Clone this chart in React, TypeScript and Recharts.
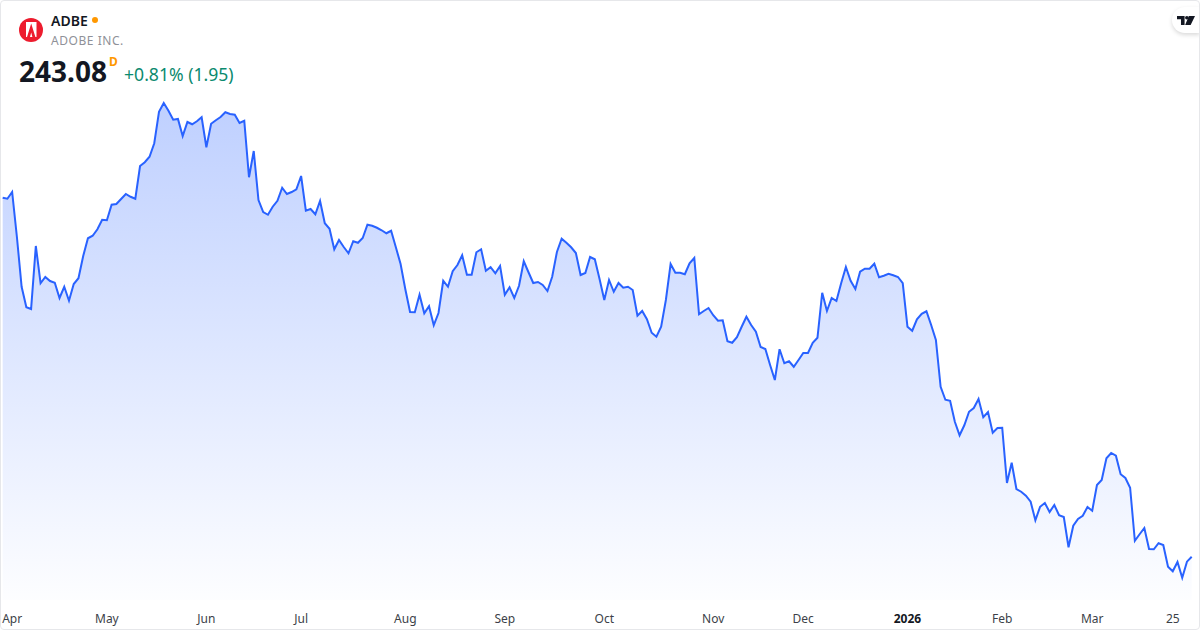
import { AreaChart, Area, XAxis, YAxis } from 'recharts'

const prices = [
  386.7, 386.3, 389.0, 371.1, 351.1, 342.9, 342.2, 367.4, 352.5, 355.0, 353.4, 352.7,
  346.6, 351.1, 345.5, 352.2, 354.5, 363.4, 370.5, 371.5, 374.1, 377.9, 377.7, 383.9,
  384.2, 386.2, 388.2, 387.1, 386.3, 399.4, 400.9, 403.1, 408.5, 421.1, 424.6, 421.5,
  417.9, 418.2, 411.4, 417.0, 416.1, 417.3, 418.9, 406.9, 416.3, 417.7, 419.0, 420.9,
  420.2, 419.9, 416.6, 417.5, 394.9, 405.4, 385.8, 381.0, 379.9, 383.1, 385.5, 390.7,
  388.2, 389.0, 390.1, 395.4, 381.5, 382.2, 380.1, 385.4, 376.5, 374.3, 366.1, 369.8,
  367.0, 364.5, 369.3, 368.7, 370.6, 375.9, 375.5, 374.7, 373.7, 372.5, 373.5, 366.9,
  360.2, 350.1, 341.0, 340.9, 347.9, 340.5, 343.3, 335.7, 340.6, 353.5, 351.1, 357.3,
  359.8, 363.7, 355.9, 355.9, 364.9, 366.1, 357.5, 358.9, 356.5, 359.4, 347.9, 350.9,
  346.6, 351.5, 361.3, 356.9, 352.6, 353.0, 351.8, 349.4, 355.1, 365.0, 370.3, 368.7,
  366.9, 364.6, 355.8, 356.6, 363.0, 362.1, 354.2, 345.8, 353.8, 349.1, 352.6, 350.7,
  351.1, 349.8, 339.5, 341.4, 338.1, 332.7, 331.1, 335.1, 345.8, 360.2, 356.7, 356.7,
  356.1, 360.5, 362.6, 340.1, 341.4, 342.6, 339.7, 337.5, 337.7, 329.3, 328.7, 330.9,
  335.1, 339.1, 335.8, 333.1, 327.0, 326.2, 319.8, 313.8, 326.1, 320.5, 321.3, 319.1,
  321.8, 324.6, 324.6, 328.7, 330.7, 348.7, 341.4, 346.6, 345.4, 352.5, 359.0, 353.5,
  350.2, 357.1, 358.3, 358.3, 360.3, 354.9, 355.5, 356.3, 355.7, 355.0, 352.5, 335.1,
  333.5, 338.1, 340.3, 341.3, 335.8, 329.8, 311.1, 305.9, 305.5, 297.1, 291.7, 295.7,
  301.1, 302.6, 306.2, 298.9, 301.0, 292.7, 294.6, 294.7, 272.6, 280.7, 270.2, 269.1,
  267.5, 265.1, 257.7, 263.1, 264.6, 261.0, 263.8, 259.7, 259.0, 246.9, 255.5, 258.2,
  259.5, 263.0, 261.5, 271.8, 273.8, 282.5, 284.6, 283.5, 276.1, 274.6, 270.7, 249.5,
  252.1, 254.6, 246.2, 246.1, 248.5, 247.8, 239.1, 237.3, 241.0, 234.7, 241.13, 243.08,
]

const tickPositions = [2, 22, 43, 63, 85, 106, 127, 150, 169, 191, 211, 230, 247]
const tickLabels = ['Apr', 'May', 'Jun', 'Jul', 'Aug', 'Sep', 'Oct', 'Nov', 'Dec', '2026', 'Feb', 'Mar', '25']

const chartData = prices.map((price, index) => ({ index, price }))
const FONT = '"Noto Sans", sans-serif'

const MonthTick = ({ x, y, payload }: any) => {
  const label = tickLabels[tickPositions.indexOf(payload.value)]
  return (
    <text
      x={x}
      y={y + 10}
      textAnchor="middle"
      dominantBaseline="central"
      fontFamily={FONT}
      fontSize={12}
      fontWeight={label === '2026' ? 700 : 400}
      fill={label === '2026' ? '#131722' : '#3c3f48'}
    >
      {label}
    </text>
  )
}

const AdobeLogo = () => (
  <svg width={24} height={24} viewBox="0 0 24 24" style={{ position: 'absolute', left: 19, top: 18 }}>
    <circle cx={12} cy={12} r={12} fill="#ed1c2e" />
    <path d="M7 4h10.5v15H7z" fill="#fff" />
    <path d="M12.2 5.5L8 19h3l1.2-4.5 1.2 4.5h3z" fill="#ed1c2e" />
  </svg>
)

const TvBadge = () => (
  <div
    style={{
      position: 'absolute',
      right: 0,
      top: 7,
      width: 28,
      height: 26,
      background: '#fff',
      borderRadius: '13px 0 0 13px',
      boxShadow: '0 2px 4px rgba(0,0,0,0.15)',
    }}
  >
    <svg width={18} height={9} viewBox="0 0 19 9.5" style={{ position: 'absolute', left: 5, top: 9 }}>
      <path d="M0 0h8v9.5H4.2V3.4H0z M12.5 0h6.5l-4.6 9.5H8.6z" fill="#131722" />
      <circle cx={10.4} cy={1.9} r={1.9} fill="#131722" />
    </svg>
  </div>
)

export default function App() {
  return (
    <div style={{ position: 'absolute', left: 0, top: 0, width: 1200, height: 630, background: '#fff', overflow: 'hidden' }}>
      <AreaChart
        width={1200}
        height={630}
        data={chartData}
        margin={{ top: 90, right: 8.3, bottom: 0, left: 2.67 }}
      >
        <defs>
          <linearGradient id="priceFill" x1="0" y1="0" x2="0" y2="1">
            <stop offset="0%" stopColor="#2962ff" stopOpacity={0.3} />
            <stop offset="100%" stopColor="#2962ff" stopOpacity={0.01} />
          </linearGradient>
        </defs>
        <XAxis
          dataKey="index"
          type="number"
          domain={[0, 251]}
          ticks={tickPositions}
          interval={0}
          height={30}
          axisLine={false}
          tickLine={false}
          tick={<MonthTick />}
        />
        <YAxis hide width={0} domain={[225.8, 429.8]} />
        <Area
          type="linear"
          dataKey="price"
          stroke="#2962ff"
          strokeWidth={2}
          fill="url(#priceFill)"
          fillOpacity={1}
          isAnimationActive={false}
          dot={false}
          activeDot={false}
        />
      </AreaChart>

      <AdobeLogo />
      <div style={{ position: 'absolute', left: 51, top: 11, fontFamily: FONT, fontSize: 14, fontWeight: 600, color: '#131722', lineHeight: '20px' }}>
        ADBE
      </div>
      <div style={{ position: 'absolute', left: 92, top: 17, width: 6, height: 6, borderRadius: 3, background: '#ff9800' }} />
      <div style={{ position: 'absolute', left: 51, top: 31, fontFamily: FONT, fontSize: 12, letterSpacing: 0.55, color: '#8f9198', lineHeight: '20px' }}>
        ADOBE INC.
      </div>
      <div style={{ position: 'absolute', left: 19, top: 52, fontFamily: FONT, fontSize: 28, fontWeight: 700, color: '#131722', lineHeight: '38px' }}>
        243.08
      </div>
      <div style={{ position: 'absolute', left: 109, top: 54, fontFamily: FONT, fontSize: 12, fontWeight: 700, color: '#ff9800', lineHeight: '16px' }}>
        D
      </div>
      <div style={{ position: 'absolute', left: 124, top: 62, fontFamily: FONT, fontSize: 17.6, color: '#0b8a6f', lineHeight: '24px' }}>
        +0.81% (1.95)
      </div>
      <TvBadge />
      <div style={{ position: 'absolute', inset: 0, boxSizing: 'border-box', border: '1px solid #e6e7ea', borderRadius: 4, pointerEvents: 'none' }} />
    </div>
  )
}
